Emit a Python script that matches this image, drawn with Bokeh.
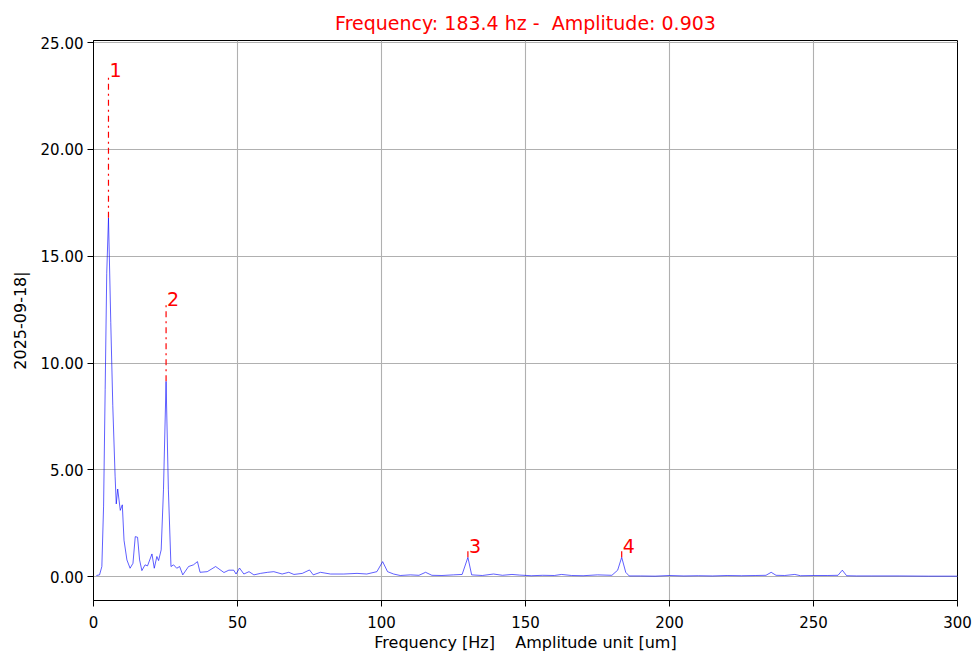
from bokeh.plotting import figure
from bokeh.models import ColumnDataSource, NumeralTickFormatter, FixedTicker, Range1d
from bokeh.embed import file_html
from bokeh.resources import INLINE
from bokeh.core.properties import value

# Amplitude spectrum (Hz, um)
freq_hz = [
    1.0, 2.1, 2.9, 3.5, 4.05, 4.6, 5.2, 6.0, 6.7, 7.5, 7.9, 8.4, 9.3, 10.0, 10.6,
    11.6, 12.7, 13.7, 14.5, 15.3, 16.0, 16.8, 17.9, 18.75, 20.3, 21.1, 22.0, 22.6,
    23.5, 24.3, 25.2, 26.0, 26.9, 27.8, 28.9, 29.9, 31.0, 33.0, 34.7, 36.1,
    37.0, 39.5, 42.4, 45.3, 47.0, 48.7, 49.5, 50.7, 52.2, 54.0, 55.7, 58.0, 60.5,
    62.6, 65.5, 67.8, 69.6, 72.5, 75.0, 76.3, 78.8, 82.3, 86.9, 91.5, 94.9, 98.4,
    100.4, 102.1, 104.2, 106.5, 110.0, 113.0, 115.3, 117.5, 121.0, 125.0, 128.0,
    130.0, 131.3, 135.0, 138.9, 142.0, 145.3, 148.0, 152.0, 156.0, 160.0, 162.5,
    166.0, 170.0, 175.0, 180.0, 182.0, 183.4, 184.8, 186.0, 190.0, 195.0, 200.0,
    205.0, 210.0, 215.0, 220.0, 225.0, 230.0, 233.5, 235.3, 237.0, 240.0, 243.5,
    245.5, 250.0, 255.0, 258.5, 260.0, 261.5, 265.0, 270.0, 280.0, 290.0, 300.0,
]
amplitude_um = [
    0.05, 0.08, 0.47, 3.3, 8.75, 14.2, 16.8, 11.9, 8.0, 4.7, 3.4, 4.1, 3.1, 3.36, 1.7,
    0.78, 0.39, 0.62, 1.87, 1.84, 0.78, 0.28, 0.55, 0.5, 1.06, 0.39, 0.94, 0.75,
    1.25, 4.06, 9.14, 4.06, 0.47, 0.55, 0.39, 0.47, 0.08, 0.47, 0.55, 0.7,
    0.2, 0.23, 0.47, 0.19, 0.3, 0.3, 0.12, 0.4, 0.12, 0.23, 0.08, 0.15, 0.2,
    0.23, 0.12, 0.2, 0.1, 0.15, 0.31, 0.08, 0.2, 0.12, 0.12, 0.15, 0.12, 0.23,
    0.7, 0.23, 0.12, 0.05, 0.08, 0.06, 0.2, 0.06, 0.05, 0.08, 0.1,
    0.9, 0.08, 0.05, 0.12, 0.06, 0.1, 0.07, 0.04, 0.06, 0.05, 0.1,
    0.05, 0.04, 0.08, 0.06, 0.3, 0.903, 0.2, 0.03, 0.03, 0.02, 0.05,
    0.03, 0.04, 0.03, 0.05, 0.04, 0.05, 0.06, 0.2, 0.06, 0.05, 0.1,
    0.04, 0.05, 0.05, 0.06, 0.3, 0.04, 0.03, 0.03, 0.03, 0.02, 0.02,
]

# Marked peaks
peak_labels = ["1", "2", "3", "4"]
peak_freq = [5.2, 25.2, 130.0, 183.4]
peak_amp = [16.8, 9.14, 0.9, 0.903]

x_ticks = [0, 50, 100, 150, 200, 250, 300]
y_ticks = [0, 5, 10, 15, 20, 25]

FONT = "DejaVu Sans"
NB = "\u00a0"  # keeps repeated spaces in the rendered text

p = figure(
    width=972, height=656,
    output_backend="svg", toolbar_location=None,
    x_range=Range1d(0, 300), y_range=Range1d(-1.12, 25.1),
    min_border_left=93, min_border_right=15,
    min_border_top=40, min_border_bottom=56,
    title=f"Frequency: 183.4 hz -{NB} Amplitude: 0.903",
)

p.title.align = "center"
p.title.text_color = "red"
p.title.text_font = FONT
p.title.text_font_style = "normal"
p.title.text_font_size = "19px"
p.title.standoff = 14

p.outline_line_color = "black"
p.outline_line_width = 1
p.outline_line_alpha = 1
p.background_fill_color = "white"
p.border_fill_color = "white"

for ax in (p.xaxis[0], p.yaxis[0]):
    ax.axis_line_color = "black"
    ax.major_tick_line_color = "black"
    ax.major_tick_out = 6
    ax.major_tick_in = 0
    ax.minor_tick_line_color = None
    ax.major_label_text_font = FONT
    ax.major_label_text_font_size = "15px"
    ax.major_label_text_color = "black"
    ax.axis_label_text_font = FONT
    ax.axis_label_text_font_size = "16px"
    ax.axis_label_text_font_style = "normal"
    ax.axis_label_text_color = "black"

p.xaxis.ticker = FixedTicker(ticks=x_ticks)
p.yaxis.ticker = FixedTicker(ticks=y_ticks)
p.yaxis.formatter = NumeralTickFormatter(format="0.00")
p.xaxis.axis_label = f"Frequency [Hz]{NB*4}Amplitude unit [um]"
p.yaxis.axis_label = "2025-09-18|"
p.xaxis.major_label_standoff = 9
p.yaxis.major_label_standoff = 4
p.xaxis.axis_label_standoff = 2
p.yaxis.axis_label_standoff = 8

p.xgrid[0].ticker = FixedTicker(ticks=x_ticks)
p.ygrid[0].ticker = FixedTicker(ticks=y_ticks)
for g in (p.xgrid[0], p.ygrid[0]):
    g.grid_line_color = "#b0b0b0"
    g.grid_line_width = 1.1

spec = ColumnDataSource(data=dict(f=freq_hz, a=amplitude_um))
p.line("f", "a", source=spec, line_color="blue", line_alpha=0.7, line_width=0.9)

# Dash-dot markers rising above each peak, with the peak number on top
marker_top = [a * 1.4 for a in peak_amp]
peaks = ColumnDataSource(data=dict(f=peak_freq, a=peak_amp, top=marker_top, lab=peak_labels))
p.segment(x0="f", y0="a", x1="f", y1="top", source=peaks,
          line_color="red", line_width=1.2, line_dash="dashdot")
p.text(x="f", y="top", text="lab", source=peaks,
       text_color="red", text_font=value(FONT), text_font_size="19px",
       text_align="left", text_baseline="bottom", x_offset=1, y_offset=3)

open("out.html", "w").write(file_html(p, INLINE))
